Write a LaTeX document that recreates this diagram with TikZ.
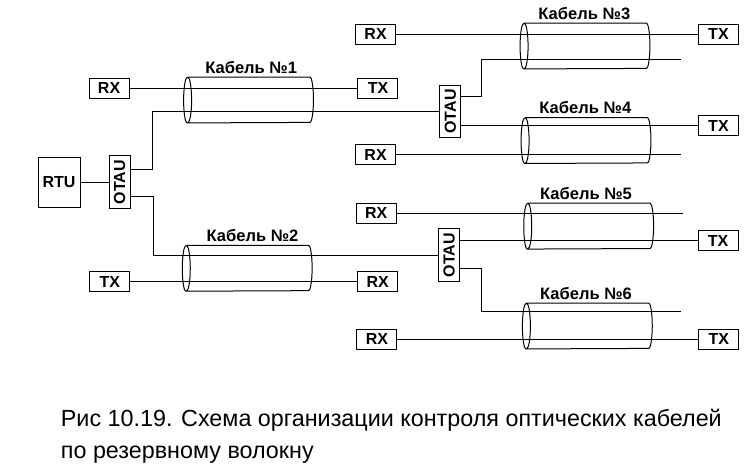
\documentclass[tikz,border=0pt]{standalone}
\usepackage{fontspec}
\usepackage{graphicx}
\setmainfont{Liberation Sans}
\usetikzlibrary{positioning}
\tikzset{
  blok/.style={rectangle, draw=black, line width=0.75pt, fill=white, inner sep=0pt,
    minimum width=30pt, minimum height=15pt, align=center, font=\fontsize{12}{13}\selectfont\bfseries},
  rtublok/.style={blok, minimum width=31.5pt, minimum height=37.5pt},
  otaublok/.style={blok, minimum width=15.75pt, minimum height=39.5pt},
  kabel/.style={rectangle, inner sep=0pt, minimum width=97pt, minimum height=34pt},
  kabtext/.style={font=\fontsize{12.4}{14}\selectfont\bfseries, inner sep=0pt, anchor=south},
  provod/.style={line width=0.75pt, black}
}

\begin{document}
\begin{tikzpicture}
  \useasboundingbox (0,0) rectangle (566.25pt,-351pt);

  % --- Cables ---
  \node[kabel] (kab1) at (186.4pt,-75pt) {};
  \node[kabel, below=91.8pt of kab1, xshift=-1pt] (kab2) {};
  \node[kabel] (kab3) at (438.75pt,-34.5pt) {};
  \node[kabel, below=36.5pt of kab3, xshift=0.75pt] (kab4) {};
  \node[kabel, below=29.8pt of kab4, xshift=2pt] (kab5) {};
  \node[kabel, below=40.5pt of kab5, xshift=-1pt] (kab6) {};

  \foreach \k in {kab1,kab2,kab3,kab4,kab5,kab6} {
    \draw[provod, rounded corners=0.5pt] ([xshift=3pt]\k.north west) -- ([xshift=-3pt]\k.north east)
      arc[start angle=90, end angle=-90, x radius=3pt, y radius=17pt]
      -- ([xshift=3pt]\k.south west)
      arc[start angle=270, end angle=90, x radius=3pt, y radius=17pt]
      arc[start angle=90, end angle=-90, x radius=3pt, y radius=17pt];
  }

  \node[kabtext] (name1) at ([xshift=2pt,yshift=2.5pt]kab1.north) {Кабель №1};
  \node[kabtext] (name2) at ([xshift=4pt,yshift=2.5pt]kab2.north) {Кабель №2};
  \node[kabtext] (name3) at ([xshift=-0.5pt,yshift=2.5pt]kab3.north) {Кабель №3};
  \node[kabtext] (name4) at ([xshift=-0.5pt,yshift=2.5pt]kab4.north) {Кабель №4};
  \node[kabtext] (name5) at ([xshift=-2pt,yshift=2.5pt]kab5.north) {Кабель №5};
  \node[kabtext] (name6) at ([xshift=-1pt,yshift=2.5pt]kab6.north) {Кабель №6};

  % --- Left part ---
  \node[rtublok] (rtu) at (44.25pt,-136.5pt) {RTU};
  \node[otaublok, right=21pt of rtu] (otau1) {\rotatebox{90}{OTAU}};
  \node[blok, left=40.5pt of kab1.west, yshift=9pt] (rx1) {RX};
  \node[blok, right=33pt of kab1.east, yshift=9pt] (tx1) {TX};
  \node[blok, left=39pt of kab2.west, yshift=-10.1pt] (tx2) {TX};
  \node[blok, right=33.75pt of kab2.east, yshift=-10.1pt] (rx2) {RX};

  % --- Right part ---
  \node[otaublok, right=30.75pt of tx1, yshift=-17.6pt] (otau2) {\rotatebox{90}{OTAU}};
  \node[otaublok, right=30pt of rx2, yshift=19.9pt] (otau3) {\rotatebox{90}{OTAU}};
  \node[blok, left=93pt of kab3.west, yshift=9pt] (rx3) {RX};
  \node[blok, right=36pt of kab3.east, yshift=9pt] (tx3) {TX};
  \node[blok, right=35.25pt of kab4.east, yshift=11pt] (tx4) {TX};
  \node[blok, left=93.75pt of kab4.west, yshift=-10.7pt] (rx4) {RX};
  \node[blok, left=95.25pt of kab5.west, yshift=9.5pt] (rx5) {RX};
  \node[blok, right=33pt of kab5.east, yshift=-11.1pt] (tx5) {TX};
  \node[blok, left=93.75pt of kab6.west, yshift=-10pt] (rx6) {RX};
  \node[blok, right=34.5pt of kab6.east, yshift=-10pt] (tx6) {TX};

  % --- Free fibre ends ---
  \coordinate[right=23.25pt of kab3.east, yshift=-9.75pt] (end3);
  \coordinate[right=22.5pt of kab4.east, yshift=-10.7pt] (end4);
  \coordinate[right=21.75pt of kab5.east, yshift=9.5pt] (end5);
  \coordinate[right=21.75pt of kab6.east, yshift=11pt] (end6);

  % --- Fibres ---
  \draw[provod] (rtu) -- (otau1);
  \draw[provod] (rx1) -- (tx1);
  \draw[provod] (tx2) -- (rx2);
  \draw[provod] (rx3) -- (tx3);
  \draw[provod] (rx4) -- (end4);
  \draw[provod] (rx5) -- (end5);
  \draw[provod] (rx6) -- (tx6);
  \draw[provod] ([yshift=9.75pt]otau1.east) -- ++(16.5pt,0) |- (otau2.west);
  \draw[provod] ([yshift=-10.5pt]otau1.east) -- ++(17pt,0) |- (otau3.west);
  \draw[provod] ([yshift=11.6pt]otau2.east) -- ++(15pt,0) |- (end3);
  \draw[provod] (otau2.east |- tx4) -- (tx4);
  \draw[provod] (otau3.east |- tx5) -- (tx5);
  \draw[provod] ([yshift=-10pt]otau3.east) -- ++(15.75pt,0) |- (end6);

  % --- Caption ---
  \node[anchor=north west, align=left, inner sep=0pt, font=\fontsize{17.5}{24.5}\selectfont] (podpis)
    at (45.5pt,-306.5pt) {Рис 10.19. Схема организации контроля оптических кабелей\\по резервному волокну};

\end{tikzpicture}
\end{document}
